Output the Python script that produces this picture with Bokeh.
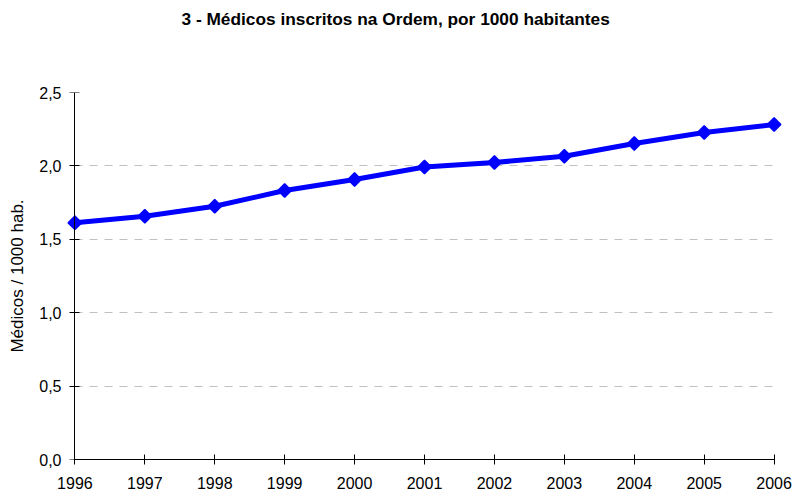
import math
from bokeh.plotting import figure
from bokeh.models import Range1d, FixedTicker, LinearAxis, CustomLabelingPolicy
from bokeh.embed import file_html
from bokeh.resources import INLINE

# ---- data ----
years = [1996, 1997, 1998, 1999, 2000, 2001, 2002, 2003, 2004, 2005, 2006]
medicos = [1.612, 1.657, 1.725, 1.832, 1.907, 1.993, 2.023, 2.066, 2.153, 2.227, 2.282]
x_tick_labels = ["1996", "1997", "1998", "1999", "2000", "2001", "2002", "2003", "2004", "2005", "2006"]
y_ticks = [0.0, 0.5, 1.0, 1.5, 2.0, 2.5]
y_tick_labels = ["0,0", "0,5", "1,0", "1,5", "2,0", "2,5"]
title_text = "3 - Médicos inscritos na Ordem, por 1000 habitantes"
y_axis_title = "Médicos / 1000 hab."

FONT = "Liberation Sans"
BLUE = "#0000FF"

NO_LABELS_CODE = "for (let i = 0; i < indices.size; i++) { indices.unset(i) }\nreturn indices"

p = figure(width=792, height=492, output_backend="svg", toolbar_location=None,
           x_range=Range1d(1995.88, 2006.12), y_range=Range1d(0, 2.5),
           min_border_left=66, min_border_right=10, min_border_top=92, min_border_bottom=33)
p.outline_line_color = None
p.background_fill_color = "white"
p.border_fill_color = "white"

xa = p.below[0]
ya = p.left[0]
grid_y = [r for r in p.center if getattr(r, "dimension", None) == 1][0]
grid_x = [r for r in p.center if getattr(r, "dimension", None) == 0][0]

# title
p.title.text = title_text
p.title.align = "left"
p.title.offset = 115
p.title.text_font = FONT
p.title.text_font_size = "17.3px"
p.title.text_font_style = "bold"
p.title.text_color = "black"

# invisible spacer between the title and the plot area
spacer = LinearAxis(ticker=FixedTicker(ticks=[2001]), axis_line_color=None,
                    major_tick_line_color=None, minor_tick_line_color=None,
                    major_tick_in=0, major_tick_out=44, minor_tick_out=0,
                    major_label_standoff=0, major_label_text_font_size="16px",
                    major_label_policy=CustomLabelingPolicy(code=NO_LABELS_CODE))
p.add_layout(spacer, "above")

# grid
grid_x.grid_line_color = None
grid_y.grid_line_color = "#C0C0C0"
grid_y.grid_line_dash = "8 7"
grid_y.grid_line_width = 1
try:
    grid_y.cross_bounds = (years[0], years[-1])
except Exception:
    pass

# x axis
xa.ticker = FixedTicker(ticks=years)
xa.major_label_overrides = {y: s for y, s in zip(years, x_tick_labels)}
xa.bounds = (years[0], years[-1])
xa.major_tick_in = 5
xa.major_tick_out = 5
xa.minor_tick_line_color = None
xa.axis_line_color = "black"
xa.major_tick_line_color = "black"
xa.major_label_text_font = FONT
xa.major_label_text_font_size = "16px"
xa.major_label_text_color = "black"
xa.major_label_standoff = 12

# y axis: labels + title (in the left panel)
ya.ticker = FixedTicker(ticks=y_ticks)
ya.major_label_overrides = {t: s for t, s in zip(y_ticks, y_tick_labels)}
ya.axis_line_color = None
ya.major_tick_line_color = None
ya.major_tick_in = 0
ya.major_tick_out = 0
ya.minor_tick_line_color = None
ya.major_label_text_font = FONT
ya.major_label_text_font_size = "16px"
ya.major_label_text_color = "black"
ya.major_label_standoff = 5
ya.axis_label = y_axis_title
ya.axis_label_text_font = FONT
ya.axis_label_text_font_size = "17px"
ya.axis_label_text_font_style = "normal"
ya.axis_label_text_color = "black"
ya.axis_label_standoff = 9

# y axis line and ticks, placed exactly at the first year (no labels of its own)
yline = LinearAxis(ticker=FixedTicker(ticks=y_ticks), fixed_location=years[0],
                   major_tick_in=5, major_tick_out=5, major_label_standoff=0,
                   major_label_policy=CustomLabelingPolicy(code=NO_LABELS_CODE),
                   minor_tick_line_color=None,
                   axis_line_color="black", major_tick_line_color="black")
p.add_layout(yline, "right")

# series
p.line(years, medicos, line_color=BLUE, line_width=5)
p.scatter(years, medicos, marker="square", size=9.5, angle=math.pi / 4,
          fill_color=BLUE, line_color=BLUE, line_width=1.5)

open("out.html", "w").write(file_html(p, INLINE))
